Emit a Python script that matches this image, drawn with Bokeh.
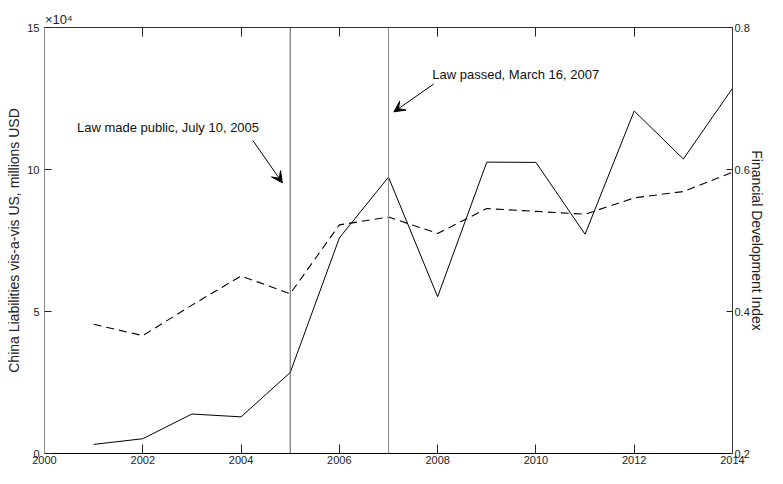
from bokeh.plotting import figure
from bokeh.models import (Range1d, LinearAxis, FixedTicker, Span, Label, Arrow, VeeHead,
                          ColumnDataSource)
from bokeh.embed import file_html
from bokeh.resources import INLINE

# ---- data ----
years = [2001, 2002, 2003, 2004, 2005, 2006, 2007, 2008, 2009, 2010, 2011, 2012, 2013, 2014]
liabilities = [3200, 5200, 13900, 12900, 28500, 75900, 97300, 55200, 102600, 102500,
               77200, 120600, 103700, 128600]
fdi = [0.382, 0.366, 0.409, 0.450, 0.425, 0.522, 0.533, 0.510, 0.545, 0.541,
       0.537, 0.560, 0.569, 0.596]
event_years = [2005, 2007]
x_ticks = [2000, 2002, 2004, 2006, 2008, 2010, 2012, 2014]
left_ticks = [0, 50000, 100000, 150000]
left_tick_labels = ["0", "5", "10", "15"]
multiplier_text = "×10⁴"
multiplier_anchor = 2000.29   # label centre, just right of the axis origin
right_ticks = [0.2, 0.4, 0.6, 0.8]
right_tick_labels = ["0.2", "0.4", "0.6", "0.8"]
ann_texts = ["Law made public, July 10, 2005", "Law passed, March 16, 2007"]
ann_text_pos = [(2000.66, 114700), (2007.89, 133500)]
ann_arrow_tail = [(2004.24, 110200), (2007.92, 130100)]
ann_arrow_tip = [(2004.84, 95300), (2007.11, 120300)]

FONT = "Liberation Sans"

p = figure(width=767, height=468, output_backend="svg", toolbar_location=None,
           x_range=Range1d(2000, 2014), y_range=Range1d(0, 150000),
           min_border_left=44, min_border_right=20, min_border_top=27, min_border_bottom=15)
p.extra_y_ranges = {"fdi": Range1d(0.2, 0.8)}
p.outline_line_color = None
p.xgrid.visible = False
p.ygrid.visible = False
p.background_fill_color = "white"
p.border_fill_color = "white"

def style_axis(ax, line_color, tick_len):
    ax.axis_line_color = line_color
    ax.axis_line_width = 1
    ax.major_tick_in = tick_len
    ax.major_tick_out = 0
    ax.major_tick_line_color = "#222222"
    ax.minor_tick_in = 0
    ax.minor_tick_out = 0
    ax.minor_tick_line_color = None
    ax.major_label_text_font = FONT
    ax.major_label_text_font_size = "11px"
    ax.major_label_text_color = "#222222"
    ax.axis_label_text_font = FONT
    ax.axis_label_text_font_size = "14px"
    ax.axis_label_text_font_style = "normal"
    ax.axis_label_text_color = "#222222"

# bottom axis
xa = p.xaxis[0]
xa.ticker = FixedTicker(ticks=x_ticks)
style_axis(xa, "#000000", 9)
xa.major_label_standoff = 2

# left axis
ya = p.yaxis[0]
ya.ticker = FixedTicker(ticks=left_ticks)
ya.major_label_overrides = {t: l for t, l in zip(left_ticks, left_tick_labels)}
style_axis(ya, "#8c8c8c", 7)
ya.major_label_standoff = 5
ya.axis_label = "China Liabilities vis-a-vis US, millions USD"
ya.axis_label_standoff = 2

# right axis
ra = LinearAxis(y_range_name="fdi", ticker=FixedTicker(ticks=right_ticks))
ra.major_label_overrides = {t: l for t, l in zip(right_ticks, right_tick_labels)}
style_axis(ra, "#333333", 6)
ra.major_label_standoff = 2
ra.axis_label = "Financial Development Index"
ra.axis_label_standoff = -4
p.add_layout(ra, "right")

# top axis: year ticks as minor ticks, one tick-less major label carrying the x10^4 multiplier
ta = LinearAxis(ticker=FixedTicker(ticks=[multiplier_anchor], minor_ticks=x_ticks))
style_axis(ta, "#333333", 0)
ta.minor_tick_in = 9
ta.minor_tick_out = 0
ta.minor_tick_line_color = "#222222"
ta.major_tick_line_color = None
ta.major_label_overrides = {multiplier_anchor: multiplier_text}
ta.major_label_text_font_size = "13px"
ta.major_label_standoff = 1
p.add_layout(ta, "above")

# vertical event lines
for yr, col in zip(event_years, ["#555555", "#8a8a8a"]):
    p.add_layout(Span(location=yr, dimension="height", line_color=col, line_width=1))

# series
src = ColumnDataSource(dict(year=years, liab=liabilities, fdi=fdi))
p.line("year", "liab", source=src, line_color="black", line_width=1)
p.line("year", "fdi", source=src, line_color="black", line_width=1.1,
       line_dash="8 5", y_range_name="fdi")

# annotations
for txt, (tx, ty), (ax0, ay0), (ax1, ay1) in zip(ann_texts, ann_text_pos, ann_arrow_tail, ann_arrow_tip):
    p.add_layout(Label(x=tx, y=ty, text=txt, text_font=FONT, text_font_size="13px",
                       text_color="#111111", text_baseline="middle", text_align="left"))
    p.add_layout(Arrow(x_start=ax0, y_start=ay0, x_end=ax1, y_end=ay1,
                       line_color="black", line_width=1,
                       end=VeeHead(size=11, fill_color="black", line_color="black", line_width=1)))

open("out.html", "w").write(file_html(p, INLINE))
